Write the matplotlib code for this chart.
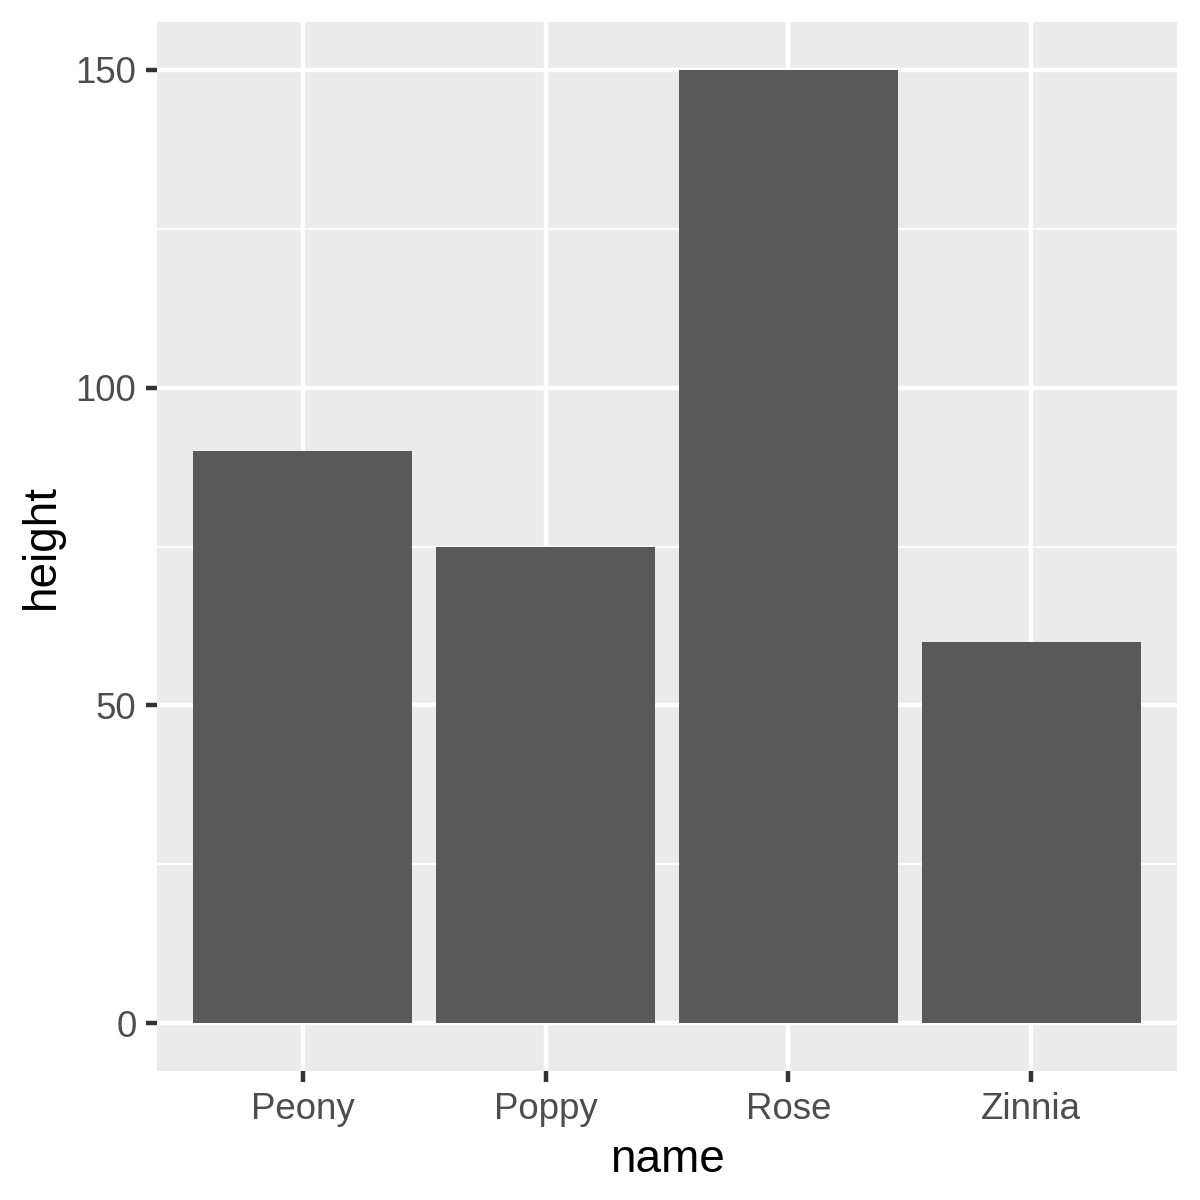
import matplotlib
matplotlib.use("Agg")
import matplotlib.pyplot as plt

names = ["Peony", "Poppy", "Rose", "Zinnia"]
heights = [90, 75, 150, 60]
yticks = [0, 50, 100, 150]
yminor = [25, 75, 125]

plt.rcParams['font.family'] = ['Liberation Sans', 'DejaVu Sans']

fig = plt.figure(figsize=(4, 4), dpi=300)
ax = fig.add_axes([157/1200, 1 - 1071/1200, (1177-157)/1200, (1071-22)/1200])
ax.set_facecolor('#EBEBEB')
for s in ax.spines.values():
    s.set_visible(False)

x = list(range(1, len(names) + 1))
ax.set_axisbelow(True)
for v in yminor:
    ax.axhline(v, color='white', lw=0.53, zorder=0)
for v in yticks:
    ax.axhline(v, color='white', lw=1.07, zorder=0)
for xi in x:
    ax.axvline(xi, color='white', lw=1.07, zorder=0)

ax.bar(x, heights, width=0.9, color='#595959', zorder=2)

ax.set_xlim(0.4, 4.6)
ax.set_ylim(-7.5, 157.5)
ax.set_xticks(x)
ax.set_xticklabels(names)
ax.set_yticks(yticks)
ax.set_yticklabels([str(v) for v in yticks])
ax.tick_params(axis='both', length=2.75, width=1.07, color='#333333',
               labelsize=8.8, labelcolor='#4D4D4D', pad=2.2)
ax.set_xlabel('name', fontsize=11, color='black', labelpad=2.75)
ax.set_ylabel('height', fontsize=11, color='black', labelpad=2.75)

fig.savefig('out.png', dpi=300, facecolor='white')
